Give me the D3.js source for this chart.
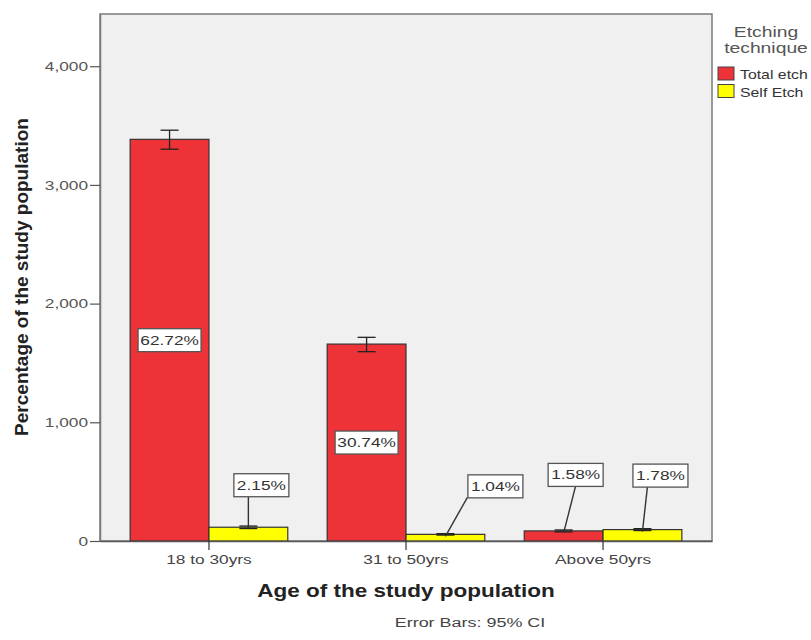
<!DOCTYPE html>
<html>
<head>
<meta charset="utf-8">
<script src="https://cdn.jsdelivr.net/npm/d3@7"></script>
<style>
  body { margin: 0; background: #fff; }
  text { font-family: "Liberation Sans", Arial, sans-serif; }
</style>
</head>
<body>
<div></div>
<script>
var width = 811;
var height = 640;

// data
var categories = ['18 to 30yrs', '31 to 50yrs', 'Above 50yrs'];
var keys = ['Total etch', 'Self Etch'];
var totalEtch = [3384, 1659, 85];
var selfEtch = [116, 56, 96];
var totalEtchCI = [[3301, 3461], [1595, 1716], [77, 93]];
var selfEtchCI = [[105, 126], [50, 62], [88, 104]];
var totalEtchLabels = ['62.72%', '30.74%', '1.58%'];
var selfEtchLabels = ['2.15%', '1.04%', '1.78%'];
var yTicks = [0, 1000, 2000, 3000, 4000];

// label placement: [box dx, box dy from bar top, leader start dx], null = inside bar middle
var labelOffsets = {
    'Total etch': [null, null, [12, -56, 12]],
    'Self Etch': [[13, -42, 0], [50, -48, 22], [18, -54, 5]]
};

var colors = { 'Total etch': '#ee3338', 'Self Etch': '#ffff00' };
var sx = 1.33; // the original text is drawn wide

var margin = { left: 100, top: 14, right: 712, bottom: 541 };

var svg = d3.select('div')
    .append('svg').attr('width', width).attr('height', height);

function addText(parent, x, y, str, size, fill, scale) {
    return parent.append('text')
        .attr('transform', 'translate(' + x + ',' + y + ') scale(' + (scale || sx) + ',1)')
        .attr('font-size', size)
        .attr('fill', fill)
        .text(str);
}

var x0 = d3.scaleBand()
    .domain(categories)
    .range([margin.left, margin.right])
    .paddingInner(0.2)
    .paddingOuter(0.153);

var x1 = d3.scaleBand().domain(keys).range([0, x0.bandwidth()]);

var y = d3.scaleLinear().domain([0, 4440]).range([margin.bottom, margin.top]);

// plot background + frame
svg.append('rect')
    .attr('x', margin.left).attr('y', margin.top)
    .attr('width', margin.right - margin.left)
    .attr('height', margin.bottom - margin.top)
    .attr('fill', '#f0f0f0')
    .attr('stroke', '#7a7a7a')
    .attr('stroke-width', 1.5);

var rows = [];
categories.forEach(function (c, i) {
    rows.push({ cat: c, key: 'Total etch', value: totalEtch[i], ci: totalEtchCI[i], label: totalEtchLabels[i], off: labelOffsets['Total etch'][i] });
    rows.push({ cat: c, key: 'Self Etch', value: selfEtch[i], ci: selfEtchCI[i], label: selfEtchLabels[i], off: labelOffsets['Self Etch'][i] });
});

function cx(d) { return x0(d.cat) + x1(d.key) + x1.bandwidth() / 2; }

// bars
svg.append('g').selectAll('rect')
    .data(rows)
    .enter()
    .append('rect')
    .attr('x', function (d) { return x0(d.cat) + x1(d.key); })
    .attr('y', function (d) { return y(d.value); })
    .attr('width', x1.bandwidth())
    .attr('height', function (d) { return y(0) - y(d.value); })
    .attr('fill', function (d) { return colors[d.key]; })
    .attr('stroke', '#333')
    .attr('stroke-width', 1.2);

// error bars
var eb = svg.append('g').attr('stroke', '#222').attr('stroke-width', 1.3);
rows.forEach(function (d) {
    var c = cx(d);
    eb.append('line').attr('x1', c).attr('x2', c).attr('y1', y(d.ci[0])).attr('y2', y(d.ci[1]));
    eb.append('line').attr('x1', c - 9).attr('x2', c + 9).attr('y1', y(d.ci[0])).attr('y2', y(d.ci[0]));
    eb.append('line').attr('x1', c - 9).attr('x2', c + 9).attr('y1', y(d.ci[1])).attr('y2', y(d.ci[1]));
});

// value labels
var lab = svg.append('g');
rows.forEach(function (d) {
    var c = cx(d);
    var bx, by;
    if (d.off === null) {
        bx = c; by = (y(d.value) + y(0)) / 2;
    } else {
        bx = c + d.off[0]; by = y(d.value) + d.off[1];
        lab.append('line')
            .attr('x1', c + d.off[2]).attr('y1', by + 11)
            .attr('x2', c).attr('y2', y(d.value) + 2)
            .attr('stroke', '#333').attr('stroke-width', 1.4);
    }
    var w = d.label.length > 5 ? 63 : 55;
    lab.append('rect')
        .attr('x', bx - w / 2).attr('y', by - 11.5)
        .attr('width', w).attr('height', 23)
        .attr('fill', '#fff').attr('stroke', '#555').attr('stroke-width', 1.3);
    addText(lab, bx, by + 4.5, d.label, 13, '#333')
        .attr('text-anchor', 'middle');
});

// y axis
var yAxis = svg.append('g')
    .attr('transform', 'translate(' + margin.left + ',0)')
    .call(d3.axisLeft(y).tickValues(yTicks).tickSize(10).tickSizeOuter(0).tickFormat(d3.format(',')));
yAxis.select('.domain').attr('stroke', '#7a7a7a').attr('stroke-width', 1.5);
yAxis.selectAll('.tick line').attr('stroke', '#555').attr('stroke-width', 1.2);
yAxis.selectAll('.tick text').attr('font-size', 13).attr('fill', '#555')
    .attr('font-family', '"Liberation Sans", Arial, sans-serif')
    .attr('x', -12 / sx).attr('transform', 'scale(' + sx + ',1)');

// x axis
var xAxis = svg.append('g')
    .attr('transform', 'translate(0,' + margin.bottom + ')')
    .call(d3.axisBottom(x0).tickSize(9).tickSizeOuter(0));
xAxis.select('.domain').attr('stroke', '#555').attr('stroke-width', 1.5);
xAxis.selectAll('.tick line').attr('stroke', '#333').attr('stroke-width', 1.2);
xAxis.selectAll('.tick text').attr('font-size', 13).attr('fill', '#444')
    .attr('font-family', '"Liberation Sans", Arial, sans-serif').attr('y', 14)
    .attr('transform', 'scale(' + sx + ',1)');

// axis titles
addText(svg, 406, 597, 'Age of the study population', 18, '#222', 1.25)
    .attr('text-anchor', 'middle')
    .attr('font-weight', 'bold')
    .attr('font-family', '"Open Sans", sans-serif');

svg.append('text')
    .attr('transform', 'translate(28,277) rotate(-90)')
    .attr('text-anchor', 'middle')
    .attr('font-size', 19).attr('font-weight', 'bold')
    .attr('font-family', '"Open Sans", sans-serif')
    .attr('fill', '#222')
    .text('Percentage of the study population');

addText(svg, 470, 627, 'Error Bars: 95% CI', 13.5, '#444')
    .attr('text-anchor', 'middle');

// legend
var leg = svg.append('g');
addText(leg, 766, 37, 'Etching', 14, '#555', 1.38).attr('text-anchor', 'middle');
addText(leg, 766, 53, 'technique', 14, '#555', 1.38).attr('text-anchor', 'middle');
keys.forEach(function (k, i) {
    leg.append('rect')
        .attr('x', 718).attr('y', 67 + i * 17.5)
        .attr('width', 16).attr('height', 13)
        .attr('fill', colors[k]).attr('stroke', '#444');
    addText(leg, 740, 79 + i * 17.5, k, 12, '#333', 1.32);
});
</script>
</body>
</html>
